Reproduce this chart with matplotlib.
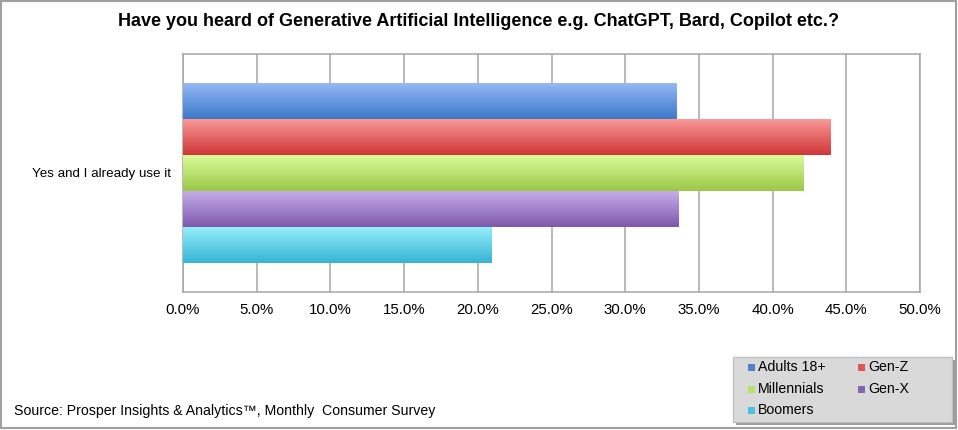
import numpy as np
import matplotlib
matplotlib.use("Agg")
import matplotlib.pyplot as plt
from matplotlib.colors import LinearSegmentedColormap
from matplotlib.patches import Rectangle

plt.rcParams['font.family'] = ['Liberation Sans', 'DejaVu Sans']

title = "Have you heard of Generative Artificial Intelligence e.g. ChatGPT, Bard, Copilot etc.?"
category = "Yes and I already use it"
series = ["Adults 18+", "Gen-Z", "Millennials", "Gen-X", "Boomers"]
values = [33.5, 43.9, 42.1, 33.6, 20.9]
xticks = [0, 5, 10, 15, 20, 25, 30, 35, 40, 45, 50]
xticklabels = ["0.0%", "5.0%", "10.0%", "15.0%", "20.0%", "25.0%", "30.0%", "35.0%", "40.0%", "45.0%", "50.0%"]
source = "Source: Prosper Insights & Analytics\u2122, Monthly  Consumer Survey"

light = ["#97BBF6", "#FB9C9C", "#DCFC9C", "#C8B0EC", "#98F0FC"]
dark = ["#3B79C9", "#CF3636", "#9CC746", "#7D57AD", "#36B3D4"]
legend_colors = ["#4F81CD", "#E05656", "#B5E06C", "#8466B0", "#48C4E2"]

W, H = 958, 430
fig = plt.figure(figsize=(W / 100, H / 100), dpi=100)
fig.patch.set_facecolor("white")

ax = fig.add_axes([183 / W, (H - 292) / H, 737 / W, 238 / H])

n = len(series)
group = 0.76
bh = group / n
offsets = [-group / 2 + bh * (i + 0.5) for i in range(n)]
bars = []
for i, (s, v) in enumerate(zip(series, values)):
    b = ax.barh([offsets[i]], [v], height=bh, color=dark[i], zorder=2, linewidth=0)
    bars.append(b)

grad = np.linspace(0, 1, 256).reshape(-1, 1)
for i, b in enumerate(bars):
    p = b.patches[0]
    x0, y0, w, h = p.get_x(), p.get_y(), p.get_width(), p.get_height()
    cmap = LinearSegmentedColormap.from_list("g%d" % i, [light[i], dark[i]])
    im = ax.imshow(grad, extent=(x0, x0 + w, y0 + h, y0), origin="upper",
                   cmap=cmap, aspect="auto", zorder=3, interpolation="bilinear")
    im.set_clip_path(p)

ax.set_xlim(0, 50)
ax.set_ylim(0.5, -0.5)
ax.set_xticks(xticks)
ax.set_xticklabels(xticklabels, fontsize=10.8)
ax.set_yticks([0])
ax.set_yticklabels([category], fontsize=9.6)
ax.tick_params(axis="x", length=0, pad=8)
ax.tick_params(axis="y", length=0, pad=9)
ax.grid(axis="x", color="#A6A6A6", linewidth=1.1, zorder=1)
ax.set_axisbelow(True)
for sp in ax.spines.values():
    sp.set_color("#A6A6A6")
    sp.set_linewidth(1.1)

fig.text(479 / W, 1 - 22 / H, title, ha="center", va="center", fontsize=13, fontweight="bold")
fig.text(14 / W, 1 - 411 / H, source, ha="left", va="center", fontsize=10.2)

# legend box (shadow + frame)
lx0, ly0, lx1, ly1 = 733, 357, 952, 422
fig.patches.append(Rectangle((lx0 + 3, H - ly1 - 3), lx1 - lx0, ly1 - ly0, transform=None,
                             facecolor="#9A9A9A", edgecolor="none", zorder=1))
fig.patches.append(Rectangle((lx0, H - ly1), lx1 - lx0, ly1 - ly0, transform=None,
                             facecolor="#D9D9D9", edgecolor="#C0C0C0", linewidth=1.0, zorder=2))
order = [0, 1, 2, 3, 4]
col_x = [748, 858]
row_y = [367, 389, 410]
for k, i in enumerate(order):
    r, c = divmod(k, 2)
    mx, my = col_x[c], row_y[r]
    fig.patches.append(Rectangle((mx, H - my - 3.5), 7, 7, transform=None,
                                 facecolor=legend_colors[i], edgecolor="none", zorder=3))
    fig.text((mx + 10) / W, 1 - my / H, series[i], ha="left", va="center", fontsize=10.2, zorder=4)

fig.patches.append(Rectangle((0.5 / W, 2 / H), 955.5 / W, 427.5 / H, transform=fig.transFigure,
                             facecolor="none", edgecolor="#A0A0A0", linewidth=1.5, zorder=10))

fig.savefig("out.png", dpi=100)
